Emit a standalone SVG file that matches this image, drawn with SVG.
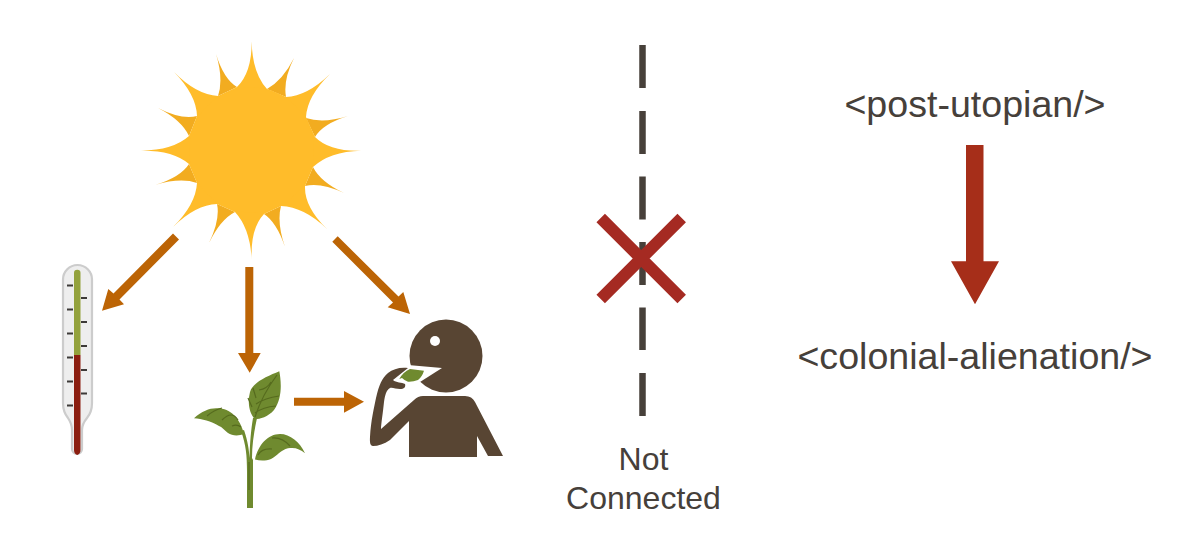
<svg xmlns="http://www.w3.org/2000/svg" width="1200" height="546" viewBox="0 0 1200 546">
<style>
text{font-family:"Liberation Sans",Arial,sans-serif;fill:#46403a}
.big{font-size:37.6px}.small{font-size:32px}
.arrow{fill:#bc6405}
.tick{stroke:#3d3a38;stroke-width:2;fill:none}
.leaf{fill:#6f8a2f}
.vein{fill:none;stroke:#566b1e;stroke-width:1.2}
</style>
<rect width="1200" height="546" fill="#fff"/>
<g id="sun">
<path fill="#f2ac20" d="M267,89Q283,80 294,58Q283,80 286,97ZM306,118Q323,123.700 348,116Q323,123.700 315,137ZM313,167Q320.500,182 344,193Q320.500,182 305,186ZM281,206Q276.600,222.200 285,247Q276.600,222.200 264,214ZM235,212Q220.400,219.500 209,243Q220.400,219.500 217,204ZM197,183Q180.500,177.300 155,185Q180.500,177.300 189,164ZM189,136Q181.500,120 158,108Q181.500,120 197,116ZM218,96Q223.700,79.100 216,54Q223.700,79.100 237,87Z"/>
<path fill="#ffbc2a" d="M237,87Q252,72.400 251.700,40.700Q252,72.400 267,89L286,97Q307.200,96.100 330,74Q307.200,96.100 306,117L315,137Q329.500,151.600 361,150.700Q329.500,151.600 313,167L305,186Q304.200,206.900 327,229Q304.200,206.900 281,206L264,214Q250.200,228.500 251.700,260Q250.200,228.500 235,212L217,204Q195.800,204.600 173,227Q195.800,204.600 197,183L189,164Q173.200,150.200 141,150.700Q173.200,150.200 189,136L197,116Q196.400,94.800 174,72Q196.400,94.800 218,96Z"/>
<circle cx="251.500" cy="150" r="62.500" fill="#ffbc2a"/>
</g>
<g id="thermometer">
<path fill="#eeeeee" stroke="#cccccc" stroke-width="2.200" d="M63,279.500A14.500,14.500 0 0 1 92,279.500V403Q92,412 87,418Q82,424 82,430V449A5,5 0 0 1 72,449V430Q72,424 68,418Q63,412 63,403Z"/>
<path fill="#93a23c" d="M74,273A3,3 0 0 1 80.500,273V355H74Z"/>
<path fill="#8b1e10" d="M74,355H80.500V450Q80.500,454 77.200,455Q74,454 74,450Z"/>
<path class="tick" d="M67,285.500h6M67,309.500h6M67,333.500h6M67,357.500h6M67,381.500h6M67,405.500h6M81,298h6M81,322h6M81,346h6M81,370h6M81,393.500h6"/>
</g>
<g id="plant">
<path class="leaf" d="M247,508V472C247,455 246,445 241,431L244,430C248,442 249,450 249.500,458C250,442 251,430 253,418L257,418C254,432 252,445 252,458L253,460V508Z"/>
<path class="leaf" d="M279.300,371.300C281,380 283,398 274,410C268,417 260,419 255,419.300C250,414 247,404 250,392C253,382 268,376 279.300,371.300Z"/>
<path class="leaf" d="M194,418.300C202,411 210,408 217,408.300C230,408 240,418 244,434C239,436 232,436 228,433C224,430 222,427 219,426C211,421 202,419 194,418.300Z"/>
<path class="leaf" d="M305,453.300C300,442 290,434 280,434C268,434 258,445 255,459.500C260,461 266,461 271,459C277,456 281,450 288,448.300C295,447 300,449 305,453.300Z"/>
<path class="vein" d="M255,417Q262,395 277,375M252,407L248,398M256,398L253,388M259,390Q267,389 271,382M256,404Q265,398 279,396M255,413Q263,407 276,406M222,420Q232,410 238,420M207,416Q214,410 222,408M232,426Q237,424 241,427M258,455Q262,448 272,449M272,438Q282,437 290,446M249,490V462"/>
</g>
<g id="person">
<circle cx="446" cy="356" r="36.500" fill="#584533"/>
<path fill="#fff" d="M408,365L442,368L420,382L405,372Z"/>
<circle cx="435" cy="341" r="5" fill="#fff"/>
<path fill="#584533" d="M409,457V421L390,440C384,444 378,446 373,446C370,446 369.700,442 370,437C371,420 374,408 376,398C379,385 382,378 388,373C393,369 400,367 408,368L393,380C396,383 402,382 405,384C406,387 404,389 400,389C396,389 392,387 390,388C386,390 385,396 384,402C383,412 381,425 381,429L414,400Q418,396 423,396H465Q472,396 475,402L503,456H488L477,436V457Z"/>
<path fill="#6f8a2f" d="M399.300,379Q403,372 410,369L424,370.700Q422,377 418,380Q413,382 408,381.700Q404,380 402,378Z"/>
</g>
<g id="connectors">
<path class="arrow" d="M173,233.500L179,239.500L119.500,299.500L124,304.300L102,310.700L108.300,289L113.500,293.500Z"/>
<path class="arrow" d="M245.300,267H253.300V353H260.700L249.700,372.700L238,353H245.300Z"/>
<path class="arrow" d="M337.700,236.300L332.300,241.700L393,302.500L387.700,307.300L410,314L403.300,292L398.500,296.500Z"/>
<path class="arrow" d="M294,397.700H344V391L364,401.700L344,412.700V405.700H294Z"/>
<path fill="#a62e19" d="M966,145H983.500V261.300H999L975,304.300L951,261.300H966Z"/>
</g>
<g id="not-connected">
<path fill="none" stroke="#47403a" stroke-width="6.500" d="M642.500,45V88M642.500,111V154M642.500,176.500V219.500M642.500,242V285M642.500,307.500V350M642.500,373V416"/>
<path fill="none" stroke="#a52a22" stroke-width="12" d="M600.700,218L681.700,299M681.700,218L600.700,299"/>
<text class="small" x="643.500" y="470" text-anchor="middle">Not</text>
<text class="small" x="643.500" y="509" text-anchor="middle">Connected</text>
</g>
<g id="post-utopian"><text class="big" x="975" y="117" text-anchor="middle">&lt;post-utopian/&gt;</text></g>
<g id="colonial-alienation"><text class="big" x="975" y="369" text-anchor="middle">&lt;colonial-alienation/&gt;</text></g>
</svg>
